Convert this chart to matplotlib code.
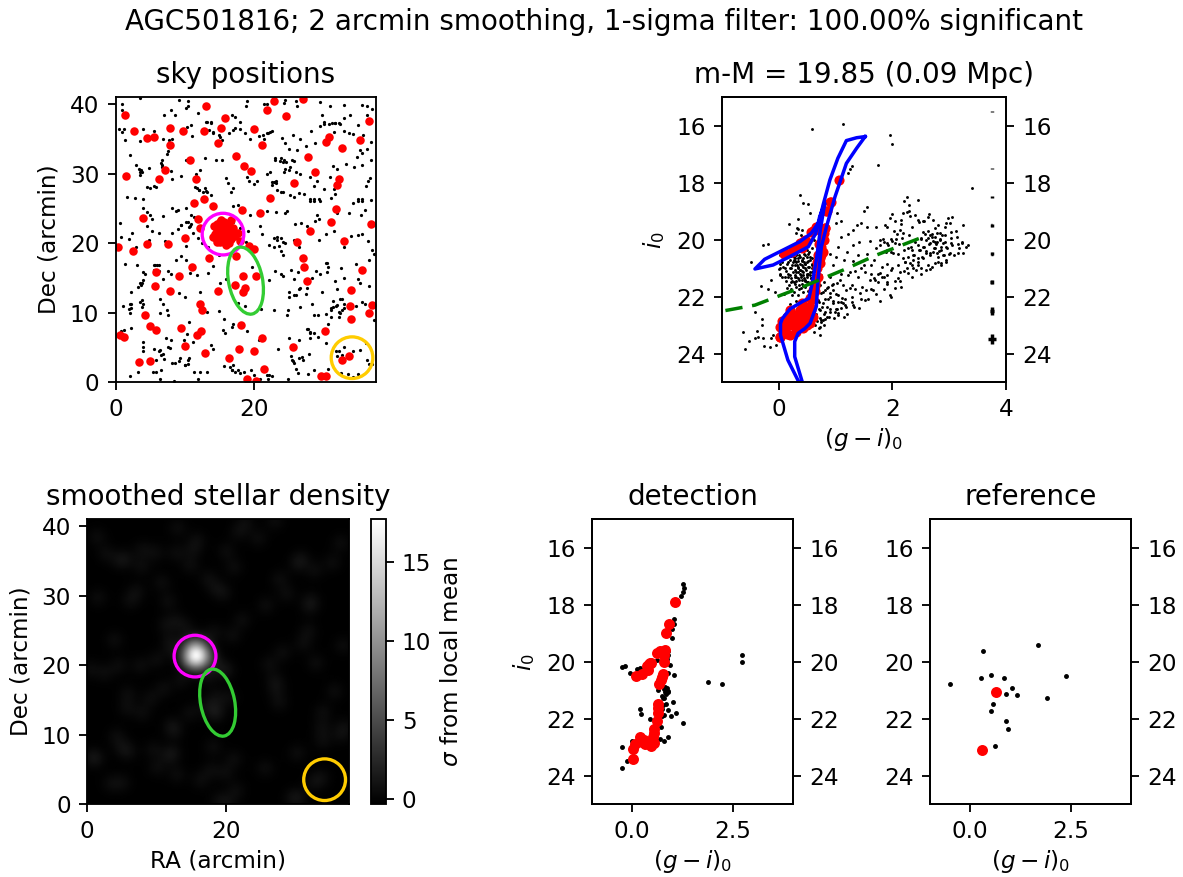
import numpy as np
import matplotlib
matplotlib.use("Agg")
import matplotlib.pyplot as plt
from matplotlib.patches import Ellipse

W, H, DPI = 1183, 877, 125

title_main = "AGC501816; 2 arcmin smoothing, 1-sigma filter: 100.00% significant"

# sky positions (arcmin)
sky_red = [(13.0,39.8),(1.4,38.5),(22.8,40.5),(27.0,40.8),(21.8,39.2),(24.6,38.3),(15.8,38.0),(36.5,37.6),(7.9,36.6),(15.2,36.6),
(2.7,36.1),(9.8,36.2),(12.8,36.2),(20.0,36.4),(4.6,35.1),(5.5,35.3),(7.8,34.2),(14.8,34.4),(21.1,34.1),(30.8,35.3),(30.3,34.6),
(35.3,34.8),(32.7,33.7),(10.7,31.9),(17.4,32.5),(27.7,32.4),(18.5,31.1),(19.6,30.4),(28.7,30.3),(1.5,29.7),(7.1,30.6),(6.2,29.3),
(11.6,29.2),(25.7,28.6),(32.2,29.3),(32.0,28.4),(22.3,26.5),(12.8,26.4),(11.3,25.8),(14.1,25.4),(18.2,24.7),(20.9,24.3),(31.8,24.9),
(3.9,23.6),(11.9,23.5),(31.1,23.1),(36.8,22.8),(12.2,22.2),(28.1,21.8),(10.0,20.8),(0.4,19.4),(4.5,19.9),(7.6,19.9),(2.5,18.9),
(26.2,20.1),(32.9,20.3),(19.3,19.6),(20.0,19.1),(17.4,18.2),(13.5,17.8),(27.0,17.8),(27.2,16.5),(11.0,16.6),(35.6,16.2),(5.8,15.8),
(9.1,15.2),(18.4,15.3),(20.3,15.3),(27.6,14.6),(17.2,14.0),(5.7,13.8),(18.6,13.5),(7.9,13.1),(14.8,13.1),(18.4,12.9),(33.9,13.2),
(12.2,11.3),(12.5,10.4),(33.8,11.0),(37.0,11.1),(36.5,9.9),(4.2,9.7),(33.9,9.1),(18.1,8.2),(5.0,8.1),(5.9,7.5),(9.5,7.8),(12.3,7.4),
(11.7,6.8),(30.2,7.3),(0.7,6.7),(1.2,6.5),(21.1,6.4),(25.6,5.1),(10.0,5.2),(17.8,4.8),(19.9,4.5),(12.9,4.2),(16.3,3.4),(3.4,2.9),
(5.0,3.0),(33.7,3.7),(32.6,3.1),(21.4,1.9),(19.0,0.5),(20.3,0.1),(29.6,0.8),(30.4,0.9)]
sky_red_core = [(15.2,23.3),(16.6,23.3),(14.6,21.9),(14.4,21.3),
(15.1,22.1),(15.8,22.6),(16.3,22.1),(16.8,21.6),(16.1,20.9),(15.3,20.7),(16.3,20.0),(14.6,20.2),(17.7,21.5),(17.9,20.3),(15.6,21.5),
(14.9,21.0),(15.7,21.9),(16.5,20.9),(16.0,20.4),(15.0,23.0),(15.7,23.1),(16.3,22.9),(14.2,22.5),(14.7,22.7),(15.4,22.4),(16.0,21.7),
(16.5,21.4),(17.0,22.2),(17.3,21.0),(14.1,20.9),(14.9,20.5),(15.6,20.1),(15.8,20.8),(15.2,21.4),(15.0,21.8),(16.2,21.2),(15.5,22.0),
(16.7,20.6),(15.9,21.3),(15.4,20.9),(14.7,21.2),(16.3,21.7),(15.7,20.6),(15.1,20.2),(16.9,21.1),(15.3,21.9),(16.0,22.3),(14.5,20.7),(15.9,19.8)]

sky_black = [(0.9,40.0),(1.0,39.1),(3.6,40.9),(7.0,38.4),(8.0,39.2),(8.6,38.5),(9.2,40.6),(10.5,40.4),(10.5,39.7),(11.9,38.7),(10.2,39.4),
(16.8,38.5),(17.3,38.2),(18.0,37.4),(18.9,40.5),(18.8,39.8),(21.4,40.1),(21.8,40.0),(24.3,40.2),(24.5,40.6),(26.2,39.7),(26.0,40.4),
(29.5,40.3),(29.8,38.5),(30.9,39.8),(33.0,39.9),(33.8,38.4),(35.6,39.9),(36.2,39.7),(37.0,39.3),(36.3,38.5),(35.0,37.0),(33.0,38.0),
(0.5,36.4),(0.9,36.0),(1.2,36.4),(1.4,34.9),(3.5,34.7),(4.0,36.5),(5.5,36.2),(6.8,35.0),(7.7,34.9),(8.2,35.0),(10.3,36.7),(10.9,37.0),
(11.0,35.4),(13.0,37.4),(13.8,37.3),(13.5,36.3),(14.1,35.8),(14.9,35.5),(15.3,34.9),(16.4,35.8),(16.9,36.3),(17.2,36.6),(17.9,36.5),
(18.7,35.8),(19.4,35.0),(20.7,35.4),(21.2,35.5),(22.0,35.9),(22.6,36.2),(21.4,35.0),(24.0,35.2),(24.5,34.4),(25.0,33.6),(25.6,35.6),
(26.6,35.0),(26.2,33.4),(27.5,34.0),(28.2,36.1),(28.8,34.4),(29.5,36.8),(30.0,37.4),(30.8,37.2),(31.7,37.3),(32.2,37.3),(31.5,36.0),
(33.0,36.2),(33.7,35.9),(34.3,35.7),(35.7,35.5),(36.2,33.6),(36.8,34.5),(35.2,33.4),(35.5,33.0),(34.8,32.4),
(2.1,32.7),(3.0,31.3),(3.4,30.7),(3.5,29.8),(3.7,30.5),(4.8,30.8),(5.6,28.2),(6.6,31.5),(6.7,31.0),(7.4,32.8),(7.6,33.2),(8.0,30.4),
(8.2,29.2),(9.4,29.7),(10.1,32.0),(11.6,29.9),(12.2,30.5),(12.9,32.3),(14.5,32.0),(15.3,31.9),(16.0,29.4),(16.2,28.6),(17.0,28.0),
(18.9,29.5),(19.3,29.0),(19.9,28.5),(20.4,28.9),(21.9,30.0),(22.3,30.3),(22.6,28.4),(23.1,28.6),(23.0,32.2),(23.9,32.2),(24.3,32.0),
(24.6,31.7),(25.0,30.6),(25.2,31.0),(26.0,30.3),(26.6,30.0),(25.8,31.8),(28.1,29.5),(28.6,28.2),(29.0,29.0),(30.1,27.8),(31.4,31.1),
(32.0,30.7),(33.3,31.4),(34.4,31.0),(35.5,31.3),(36.7,29.4),(36.1,28.2),(36.9,31.9),(36.4,29.0),(30.9,29.5),
(1.6,26.7),(2.8,26.5),(3.9,26.4),(4.0,25.0),(4.5,24.5),(5.0,24.0),(5.2,23.5),(6.9,23.9),(8.1,25.0),(8.7,24.6),(9.0,24.7),(10.1,25.0),
(10.9,24.0),(11.3,23.7),(11.7,28.0),(12.1,27.6),(12.6,27.3),(13.1,27.5),(13.8,26.9),(16.7,27.3),(17.0,25.4),(17.6,25.5),(19.4,24.0),
(21.8,24.6),(23.2,24.5),(24.4,24.3),(24.7,24.6),(25.1,26.9),(25.7,26.6),(26.4,27.2),(27.2,27.1),(28.0,26.0),(28.6,26.0),(29.5,26.0),
(31.5,27.8),(31.7,27.1),(31.0,26.5),(29.0,24.0),(29.3,23.5),(28.8,23.2),(34.3,25.8),(35.0,26.0),(35.5,26.0),(36.8,26.2),(36.0,24.8),
(35.4,24.0),(33.6,24.4),(32.0,24.3),
(0.7,22.9),(0.8,20.9),(2.0,20.6),(2.4,21.4),(3.0,19.5),(4.5,22.4),(4.9,20.5),(5.3,21.8),(6.3,21.5),(7.1,20.3),(8.1,21.4),(9.0,22.0),
(9.4,22.6),(10.2,23.0),(10.6,22.3),(10.9,22.8),(10.1,19.6),(11.2,21.5),(11.9,20.8),(12.5,20.0),(13.3,19.4),(17.0,23.0),(18.0,22.2),
(20.8,22.4),(21.1,21.3),(22.2,19.8),(22.8,20.7),(23.3,20.4),(23.5,19.6),(23.8,18.8),(24.2,18.3),(25.7,20.4),(26.5,19.5),(25.9,22.7),
(26.7,22.9),(27.6,22.5),(29.4,20.5),(30.4,21.3),(31.5,21.7),(33.0,19.4),(34.0,21.0),(35.0,21.1),(35.6,21.3),(36.4,20.3),(37.0,19.0),
(37.3,18.4),(36.5,17.5),(24.5,20.0),(18.8,20.1),(19.1,21.7),
(1.4,17.0),(3.1,16.8),(3.9,15.9),(4.3,15.6),(4.0,14.7),(3.7,14.0),(5.5,16.8),(6.0,16.9),(6.2,16.0),(6.8,14.9),(7.5,16.0),(8.0,15.5),
(8.7,17.5),(9.5,18.2),(10.1,17.5),(10.8,15.7),(11.7,15.4),(13.4,15.7),(14.0,16.7),(14.9,18.3),(16.0,14.8),(15.1,14.2),(19.7,16.5),
(22.2,14.7),(23.9,15.5),(24.2,15.2),(23.0,16.0),(25.3,16.2),(25.8,14.9),(25.0,13.0),(26.5,13.4),(27.6,13.6),(28.4,15.0),(29.7,13.0),
(30.3,17.2),(30.7,16.5),(31.6,14.5),(32.5,16.4),(33.0,15.0),(34.7,17.0),(34.9,14.8),(35.2,14.3),(36.6,13.8),(31.9,13.4),(28.9,16.0),(26.3,15.8),
(1.1,11.0),(2.3,13.0),(2.2,11.2),(2.0,10.5),(3.5,11.5),(3.8,10.8),(6.4,11.9),(6.8,11.3),(7.4,10.4),(6.4,9.9),(7.5,9.6),(9.1,12.8),
(10.0,12.2),(10.6,8.6),(12.2,13.0),(13.2,10.1),(14.9,10.2),(15.7,9.1),(16.9,8.3),(17.7,11.4),(18.6,11.0),(21.0,10.5),(22.8,10.4),
(24.8,10.4),(24.7,9.7),(25.0,12.3),(26.0,12.6),(28.3,11.2),(28.6,9.7),(29.2,9.6),(30.4,9.8),(31.0,10.6),(31.4,11.7),(31.8,11.0),
(32.3,9.9),(32.7,12.0),(33.0,10.7),(34.7,10.9),(35.5,11.5),(36.0,11.2),(37.2,8.9),(30.7,8.4),(32.2,9.3),(27.5,12.7),
(1.2,7.5),(0.8,7.3),(2.3,7.8),(3.9,5.8),(4.0,5.0),(3.9,4.5),(5.5,4.7),(6.3,4.5),(7.3,6.3),(8.0,6.1),(7.8,4.9),(7.0,3.3),(6.5,3.9),
(5.9,3.1),(10.3,6.9),(9.9,6.1),(11.2,5.7),(13.7,5.4),(14.0,4.8),(15.5,7.5),(16.8,7.9),(15.8,7.0),(18.9,7.3),(20.7,6.0),(23.4,4.8),
(25.0,6.4),(26.5,6.0),(27.6,7.6),(28.0,7.0),(28.0,6.3),(29.2,6.5),(30.3,5.6),(25.3,3.7),(25.6,3.0),(26.4,3.5),(27.0,3.2),(27.9,4.0),
(31.8,4.4),(32.2,4.5),(33.0,5.1),(34.2,4.5),(35.2,4.6),(36.1,5.6),(36.3,3.2),(37.0,2.6),(32.7,3.9),(31.9,3.7),
(2.1,0.8),(3.2,1.5),(5.4,1.4),(5.8,1.5),(6.6,1.7),(6.4,0.4),(8.1,2.8),(8.6,2.8),(9.2,3.0),(10.0,2.4),(10.4,2.6),(10.6,3.4),(11.3,1.5),
(12.2,1.4),(13.2,1.5),(15.6,2.3),(16.5,2.2),(16.8,1.7),(17.2,1.4),(18.0,1.3),(19.5,1.8),(20.0,1.0),(20.8,0.4),(21.9,1.0),(22.0,0.5),
(24.9,0.4),(26.0,1.9),(26.3,1.3),(27.8,1.2),(28.6,1.7),(30.7,1.9),(32.5,1.3),(33.5,1.2),(34.2,0.7),(35.0,1.2),(36.5,2.6),(8.5,0.2),(11.9,0.5),
(9.5,22.6),(10.5,23.1),(10.7,22.4),(4.6,28.1),(5.0,28.0),(5.9,28.1),(6.7,31.9),(6.7,31.2),(3.5,30.3),(3.8,30.3),(11.5,28.1),(12.0,27.6),
(12.9,27.9),(13.2,27.4),(23.0,31.9),(23.7,31.8),(24.2,31.7),(25.4,32.0),(24.5,30.7),(24.3,30.3),(23.2,29.0),(22.5,28.8),(22.8,28.8),
(23.3,27.6),(23.8,27.4),(24.2,27.4),(28.1,26.4),(28.6,26.3),(29.3,26.4),(35.0,26.3),(35.5,26.3),(30.0,37.2),(31.2,37.3),(31.7,37.3),
(32.3,37.2),(13.7,37.4),(13.2,37.5),(14.1,36.0),(15.1,35.3),(21.8,35.8),(22.3,36.0),(31.4,10.8),(31.9,11.1),(32.4,12.0),(32.9,11.3),
(32.2,10.1),(31.0,10.4),(31.0,9.4),(32.6,10.4),(3.3,13.7),(3.8,14.2),(3.6,14.2),(3.8,11.8),(4.0,11.3),(2.1,11.3),(2.2,10.6),(2.1,9.9),
(5.7,16.8),(6.2,16.8),(5.5,16.1),(22.8,19.5),(23.3,20.9),(23.8,20.7),(24.2,20.2),(6.4,4.6),(6.9,4.1),(7.6,5.1),(10.5,3.2),(9.3,3.4),
(10.0,2.4),(25.4,3.2),(25.7,2.7),(26.9,3.6),(17.0,2.4),(17.7,1.7),(18.5,1.5),(16.8,1.7),(22.1,1.0),(22.5,0.8),(27.8,7.7),(28.1,7.2),
(28.6,7.0),(26.6,10.8),(25.7,12.5),(26.6,13.5),(30.5,17.1),(30.5,15.9),(29.5,15.6)]

# detection / reference CMD points: (g-i)0, i0
det_red = [(1.06,17.92),(.92,18.68),(.83,18.99),(.82,19.60),(.69,19.62),(.61,19.71),(.75,19.71),(.79,20.02),(.79,19.77),(.48,20.06),
(.42,20.09),(.37,20.16),(.40,20.30),(.24,20.44),(.09,20.49),(.45,20.04),(.77,20.42),(.75,20.53),(.72,20.65),(.67,20.80),(.63,21.49),
(.63,21.64),(.64,21.82),(.61,22.09),(.55,22.35),(.54,22.52),(.52,22.64),(.20,22.66),(.30,22.75),(.40,22.85),(.53,22.87),(.46,22.96),
(.33,22.89),(.25,22.81),(.07,22.91),(.03,23.08),(.02,23.42)]
det_black = [(1.255,17.27),(1.30,17.43),(1.255,17.57),(1.21,17.69),(1.03,18.49),(1.03,18.66),(1.0,18.87),(1.0,19.16),(.90,19.63),(.88,19.77),
(.87,19.89),(.94,20.13),(1.03,20.46),(.90,20.39),(.61,19.95),(-.26,20.19),(-.17,20.16),(.11,20.25),(.20,20.22),(-.05,20.40),(1.89,20.73),
(2.23,20.80),(2.73,19.76),(2.74,20.0),(.82,20.88),(.86,20.91),(.78,20.95),(.88,21.02),(.82,21.06),(.90,21.07),(.85,21.13),(.73,21.21),
(.77,21.26),(.80,21.29),(.63,21.0),(1.02,21.40),(.83,21.49),(.77,21.53),(.19,21.67),(.21,21.83),(.75,21.68),(.88,21.71),(1.09,21.82),
(.96,21.90),(.78,21.88),(.73,21.91),(.45,22.0),(1.26,22.16),(.71,22.29),(.69,22.70),(.80,22.77),(.90,22.65),(0.0,22.79),(-.25,23.01),
(-.12,23.48),(-.25,23.73)]
ref_red = [(.63,21.08),(.29,23.09)]
ref_black = [(.31,19.61),(1.69,19.42),(-.50,20.79),(.26,20.57),(.51,20.46),(.84,20.57),(2.38,20.51),(1.04,20.91),(.89,21.14),(1.17,21.16),
(1.90,21.27),(.57,21.49),(.51,21.75),(.88,22.10),(.95,22.38),(.62,22.95)]

# full-field CMD
cmd_red_extra = [(.75,20.25),(.69,20.54),(.72,20.83),(.69,21.30),(.63,21.53),(.60,21.77),(.55,22.06),(.40,22.24),(.11,20.48),(.25,20.36),
(.37,20.13),(.46,20.01),(.57,19.72),(.66,19.54),(.02,23.06),(.11,22.82),(.19,22.47),(.25,22.70),(.37,22.47),(.49,22.35),(.57,22.47),
(.60,22.70),(.55,22.94),(.43,23.11),(.31,23.23),(.19,23.35),(.08,23.23),(.02,23.41),(.13,23.06),(.31,22.94),(.46,22.70),(.81,19.60),
(.90,18.69),(.84,18.98),(.33,22.6),(.42,22.55),(.14,22.7),(.24,23.0),(.38,23.0),(.5,23.0),(.14,23.3),(.05,22.85),(.68,21.0),(.7,20.15),(.3,20.25)]
cmd_black = [(.59,16.12),(1.13,15.93),(1.96,16.32),(1.99,16.64),(1.75,17.37),(3.41,18.17),(1.28,17.41),(1.25,17.53),(1.22,17.67),(.38,18.43),
(.52,18.75),(.43,18.72),(.55,19.07),(.34,19.29),(.18,19.46),(.32,19.6),(.40,19.66),(.30,19.78),(.43,19.9),(-.28,20.18),(-.19,20.15),(-.49,20.8),
(-.63,23.23),(-.53,23.55),(-.6,23.83),(-.39,23.2),(-.3,22.79),(-.29,23.0),(-.42,23.47),(-.36,23.43),(-.28,23.47),(-.26,23.72),(-.16,23.78),
(-.13,23.47),(-.1,23.35),(-.05,23.7),(-.42,22.53),(-.32,21.63),(-.19,21.73),(-.13,21.42),(-.06,21.85),(.19,22.26),(.3,22.14),(.72,23.08),
(.63,23.0),(.78,22.82),(.84,22.7),
(.02,20.55),(.05,20.8),(.02,21.0),(.02,21.2),(.06,21.3),(.08,20.95),(.1,20.65),(.12,21.1),(.13,21.45),(.15,20.85),(.16,21.2),(.17,20.55),
(.18,21.6),(.2,21.0),(.2,20.7),(.21,21.35),(.22,21.75),(.24,20.9),(.25,21.15),(.25,20.45),(.26,21.5),(.27,21.85),(.28,20.75),(.29,21.05),
(.3,21.3),(.3,20.55),(.31,21.65),(.32,20.9),(.33,21.15),(.33,21.95),(.34,20.65),(.35,21.4),(.36,21.75),(.37,20.85),(.37,21.05),(.38,20.4),
(.39,21.25),(.4,21.55),(.41,20.7),(.42,20.95),(.42,21.85),(.43,21.15),(.44,20.5),(.45,21.35),(.46,21.65),(.47,20.85),(.48,21.05),(.49,20.6),
(.5,21.25),(.5,21.5),(.51,21.8),(.52,20.75),(.53,20.95),(.54,20.45),(.55,21.15),(.56,21.35),(.57,21.65),(.58,20.65),(.59,20.9),(.6,21.1),
(.28,21.25),(.23,21.45),(.34,21.0),(.39,21.7),(.41,21.1),(.44,20.8),(.36,20.55),(.31,20.8),(.26,20.7),(.47,21.45),(.52,21.2),(.19,21.25),
(.15,21.7),(.1,21.9),(.24,21.95),(.46,19.95),(.35,20.3),(.27,20.25),(.55,20.1),(.5,20.35),(.58,20.3),(.62,20.0),
(.72,21.0),(.75,21.25),(.8,21.5),(.72,21.6),(.78,21.85),(.85,21.7),(.9,21.3),(.95,21.55),(1.0,21.9),(.82,22.1),(.9,22.0),(.7,22.2),
(.76,22.35),(.85,22.35),(.95,22.15),(1.05,22.2),(1.12,22.05),(.8,22.6),(.72,22.75),(.65,22.6),(.7,22.45),(.9,22.55),(1.0,22.45),(1.1,22.4),
(1.17,22.3),(1.2,22.6),(1.15,22.7),(1.05,22.65),(.97,22.75),(.88,22.7),(.75,22.9),(.68,22.85),(.8,23.0),(.62,23.25),(.72,23.35),(1.28,22.0),
(1.33,22.35),(1.42,22.4),(1.45,22.1),(1.35,21.75),(1.25,21.7),(.95,20.9),(1.0,20.6),(1.05,20.25),(.9,20.5),(1.15,20.7),(1.2,20.45),(1.3,20.75),
(1.1,19.9),(1.22,19.8),(1.3,20.2),(1.42,20.1),(1.4,20.55),(1.55,20.5),(1.5,20.9),(1.45,21.0),(1.35,21.1),(1.25,21.15),(1.1,21.2),(1.02,19.05),
(1.1,19.35),(1.3,19.65),(1.37,19.5),(1.5,19.0),(1.45,19.4),(1.55,18.85),(1.0,19.4),
(1.6,21.4),(1.62,21.75),(1.68,21.35),(1.75,21.5),(1.72,21.9),(1.85,21.3),(1.9,21.55),(1.95,21.95),(1.98,22.0),(1.78,22.15),(1.85,21.75),
(2.05,21.7),(2.1,21.35),(2.15,21.65),(1.62,20.9),(1.68,20.7),(1.72,19.55),(1.55,19.55),(1.6,20.05),(1.72,20.3),(1.78,20.2),(1.85,20.1),
(1.88,20.45),(1.92,20.2),(1.97,20.45),(2.0,20.05),(2.02,19.7),(2.08,19.8),(2.1,20.5),(2.12,20.15),(2.17,19.95),(2.2,20.35),(2.22,20.8),
(2.25,21.0),(2.28,20.6),(2.3,19.85),(2.33,20.25),(2.35,20.9),(2.38,20.55),(2.4,20.1),(2.42,21.05),(2.45,20.8),(2.47,20.35),(2.5,19.95),
(2.52,20.6),(2.55,20.25),(2.57,19.8),(2.6,20.4),(2.62,19.95),(2.65,20.15),(2.67,20.55),(2.7,19.8),(2.72,20.05),(2.73,20.3),(2.75,19.9),
(2.77,20.15),(2.8,20.6),(2.82,20.4),(2.83,20.0),(2.85,20.25),(2.87,19.85),(2.9,20.55),(2.92,20.1),(2.95,20.7),(2.97,20.3),(3.0,20.5),
(3.03,19.95),(3.05,20.2),(3.08,20.55),(3.12,19.7),(3.15,20.15),(3.22,20.1),(3.3,20.25),(3.18,20.3),(2.3,19.0),(2.4,19.15),(2.2,18.65),
(2.25,18.5),(2.3,18.8),(2.45,18.6),(2.55,19.35),(2.65,19.1),(2.35,19.55),(2.8,19.5),(2.95,19.4),(3.05,19.2),(2.45,19.3),(1.9,19.55),(2.0,19.1),
(2.15,19.3),(2.6,21.05),(2.7,20.95),(2.8,20.8),(2.85,20.9),(2.5,21.2),(2.35,21.3),(2.2,21.1),(2.0,21.0),(1.9,20.85),(1.82,20.95)]
cmd_black_main = [(.28,20.66),(.31,20.49),(.37,20.6),(.43,20.66),(.49,20.78),(.55,20.72),(.28,20.9),(.34,20.95),(.4,20.9),(.46,21.01),(.52,20.95),
(.58,21.01),(.31,21.13),(.37,21.19),(.43,21.25),(.49,21.19),(.55,21.25),(.28,21.3),(.34,21.36),(.4,21.42),(.47,21.42),(.52,21.48),(.22,21.48),
(.28,21.57),(.35,21.6),(.43,21.62),(.16,21.3),(.11,21.3),(.22,21.01),(.25,20.78),(.16,20.78),(.02,20.87),(0.0,21.04),(.11,21.01),(.02,21.25),
(.46,20.54),(.52,20.49),(.55,20.6),(.58,20.84),(.59,21.13),(.56,21.36),(.34,20.75),(.4,20.75),(.27,20.6),(.22,20.57),(.46,20.84),(.37,21.07),
(.49,21.3),(.3,21.46),(.39,21.3),(.33,19.61),(.39,19.84)]
cmd_black_lower = [(.75,21.89),(.81,21.77),(.87,22.07),(.93,21.6),(.96,22.24),(1.02,22.42),(1.04,21.95),(1.10,22.18),(1.16,22.07),(1.28,22.18),
(1.31,22.3),(1.13,21.6),(1.19,21.77),(1.28,21.6),(1.43,21.89),(1.51,22.12),(1.57,22.07),(1.66,21.77),(1.69,21.42),(1.54,21.77),(.78,22.24),
(.72,22.47),(.81,22.53),(.75,22.83),(.81,22.77),(.90,22.42),(.99,22.53),(1.04,22.59),(.69,22.12),(.71,23.12),(1.40,21.3),(1.51,21.13),(1.63,21.19),
(1.75,21.19),(1.22,21.25),(1.46,21.66),(1.13,22.24),(1.19,22.36),(.90,21.89),(.96,21.77),(.87,21.66),(1.02,21.54),(1.07,21.42)]
cmd_black_rgb = [(1.95,19.25),(2.04,19.33),(2.19,19.08),(2.26,19.02),(2.31,19.17),(2.16,19.45),(1.87,19.49),(2.47,19.37),(2.54,19.35),(2.63,19.22),
(2.71,19.31),(2.98,19.25),(3.01,19.43),(3.25,19.49),(2.92,19.57),(3.04,19.72),(3.13,19.9),(3.22,20.13),(3.33,20.19),(3.16,20.48),(3.25,20.46),
(2.63,19.69),(2.75,19.6),(2.78,19.78),(2.92,19.84),(2.83,19.96),(2.69,19.9),(2.51,19.96),(2.6,20.01),(2.54,20.25),(2.66,20.13),(2.75,20.07),
(2.89,20.13),(2.95,20.25),(2.86,20.37),(2.75,20.31),(2.78,20.48),(2.66,20.48),(2.45,20.19),(2.48,20.37),(2.34,20.37),(2.36,20.54),(2.28,20.31),
(2.13,19.66),(2.19,19.78),(2.07,19.96),(2.04,20.13),(1.9,20.13),(1.98,19.99),(1.84,19.96),(1.78,20.01),(1.9,20.37),(2.01,20.48),(2.19,20.66),
(2.22,20.78),(2.31,20.83),(2.36,21.01),(2.45,20.89),(2.51,21.01),(2.63,20.89),(2.66,21.04),(2.75,20.83),(2.86,20.81),(2.95,20.77),(2.54,20.66),
(2.45,20.66),(2.36,20.72),(2.1,20.89),(1.98,21.07),(2.13,21.13),(2.28,21.18),(1.9,21.24),(1.78,21.18),(1.9,21.48),(2.04,21.44),(2.13,21.44),
(1.81,21.3),(3.04,20.13),(3.01,20.48),(2.89,20.54),(2.6,20.48),(2.54,19.72),(2.66,19.84),(2.83,19.78),(2.79,20.07),(2.72,20.42)]

iso_x = [1.52,1.37,1.19,1.04,.90,.78,.71,.57,.37,.02,-.25,-.42,-.10,.19,.52,.65,.72,.81,.73,.67,.60,.53,.42,.31,.20,.11,.06,.03,.03,.16,.38,.43,.28,.28,.34,.46,.55,.66,.69,.75,.84,.99,1.19,1.37,1.52]
iso_y = [16.38,16.42,16.52,17.14,17.90,18.78,19.37,19.78,20.07,20.42,20.69,21.03,20.89,20.60,20.25,19.78,19.19,18.72,19.66,20.60,21.42,22.06,22.17,22.30,22.43,22.65,22.78,22.94,23.35,24.23,25.11,25.11,24.11,23.58,23.29,23.12,22.94,22.35,21.42,20.25,19.54,18.49,17.32,16.79,16.38]

line_x = [-.94,-.42,.43,1.13,1.72,2.48]
line_y = [22.49,22.30,21.65,21.07,20.54,19.95]

err_col = 3.75
err_mag = [15.5,16.5,17.5,18.5,19.5,20.5,21.5,22.5,23.5]
err_x = [.003,.003,.004,.005,.012,.018,.025,.035,.07]
err_y = [.01,.01,.02,.03,.04,.05,.07,.13,.18]

mag_ticks = [16,18,20,22,24]
sky_ticks_y = [0,10,20,30,40]
cbar_ticks = [0,5,10,15]

SKY_X, SKY_Y = 37.6, 41.0
regions = [((15.5,21.3),6.0,6.0,0,'#ff00ff'),((18.75,14.6),4.9,9.8,11,'#33cc33'),((34.1,3.5),6.0,6.0,0,'#ffcc00')]

S = 4/3
plt.rcParams.update({'font.size':10*S,'font.family':'DejaVu Sans','mathtext.fontset':'dejavusans',
    'axes.linewidth':0.8*S,'xtick.major.size':3.5*S,'ytick.major.size':3.5*S,'xtick.major.width':0.8*S,
    'ytick.major.width':0.8*S,'xtick.major.pad':3.5*S,'ytick.major.pad':3.5*S,'axes.labelpad':4*S,'axes.titlepad':6*S,
    'axes.titlesize':12*S})

fig = plt.figure(figsize=(W/DPI, H/DPI), dpi=DPI)

def axpx(l, t, r, b):
    return fig.add_axes([l/W, 1-b/H, (r-l)/W, (b-t)/H])

def cols(pairs):
    a = np.array(pairs)
    return a[:,0], a[:,1]

def add_regions(ax):
    for c, w, h, ang, col in regions:
        ax.add_patch(Ellipse(c, w, h, angle=ang, fill=False, ec=col, lw=1.9, zorder=5))

def sky_axis(ax):
    ax.set_xlim(0, SKY_X); ax.set_ylim(0, SKY_Y)
    ax.set_xticks([0,20]); ax.set_yticks(sky_ticks_y)
    ax.set_ylabel('Dec (arcmin)')

def cmd_axis(ax, xt, xl, ylab=True):
    ax.set_xlim(-1,4); ax.set_ylim(25,15)
    ax.set_xticks(xt); ax.set_xticklabels(xl)
    ax.set_yticks(mag_ticks)
    ax.set_xlabel(r'$(g-i)_0$', labelpad=2.5)
    if ylab:
        ax.set_ylabel(r'$i_0$')
    t = ax.twinx()
    t.set_ylim(25,15); t.set_yticks(mag_ticks)

fig.text(604/W, 1-22/H, title_main, ha='center', va='center', fontsize=12*S)

# sky
ax1 = axpx(115.5,97.3,376.3,382)
x,y = cols(sky_black); ax1.scatter(x,y,s=3.4,c='k',lw=0)
x,y = cols(sky_red+sky_red_core); ax1.scatter(x,y,s=24,c='r',lw=0)
add_regions(ax1); sky_axis(ax1)
ax1.set_title('sky positions')

# full CMD
ax2 = axpx(722,97.3,1006,382)
x,y = cols(cmd_black+cmd_black_main+cmd_black_lower+cmd_black_rgb); ax2.scatter(x,y,s=2.8,c='k',lw=0)
x,y = cols(det_red+cmd_red_extra); ax2.scatter(x,y,s=34,c='r',lw=0)
ax2.plot(iso_x, iso_y, color='b', lw=2.0)
ax2.plot(line_x, line_y, color='g', lw=2.0, ls=(0,(5,2.8)))
ax2.errorbar([err_col]*len(err_mag), err_mag, xerr=err_x, yerr=err_y, fmt='none', ecolor='k', elinewidth=2.0)
cmd_axis(ax2,[0,2,4],['0','2','4'])
ax2.set_title('m-M = 19.85 (0.09 Mpc)')

# density map computed from the selected stars
ax3 = axpx(87,519.3,349,804)
gx, gy = np.meshgrid(np.linspace(0,SKY_X,300), np.linspace(0,SKY_Y,320))
rx, ry = cols(sky_red+sky_red_core)
dens = sum(np.exp(-((gx-a)**2+(gy-b)**2)/(2*1.0**2)) for a,b in zip(rx,ry))
dens = dens/dens.max()*17.4 - 0.3
im = ax3.imshow(dens, origin='lower', extent=[0,SKY_X,0,SKY_Y], aspect='auto', cmap='gray', vmin=-0.32, vmax=17.7, interpolation='bilinear')
add_regions(ax3); sky_axis(ax3)
ax3.set_xlabel('RA (arcmin)', labelpad=3.5)
ax3.set_title('smoothed stellar density')
cax = axpx(370.7,519.3,385.5,804)
cb = fig.colorbar(im, cax=cax, ticks=cbar_ticks)
cb.set_label(r'$\sigma$ from local mean')

# detection
ax4 = axpx(592,519.3,793,804)
x,y = cols(det_black); ax4.scatter(x,y,s=8,c='k',lw=0)
x,y = cols(det_red); ax4.scatter(x,y,s=40,c='r',lw=0)
cmd_axis(ax4,[0,2.5],['0.0','2.5'])
ax4.set_title('detection')

# reference
ax5 = axpx(930,519.3,1131,804)
x,y = cols(ref_black); ax5.scatter(x,y,s=8,c='k',lw=0)
x,y = cols(ref_red); ax5.scatter(x,y,s=40,c='r',lw=0)
cmd_axis(ax5,[0,2.5],['0.0','2.5'],ylab=False)
ax5.set_title('reference')

fig.savefig('out.png', dpi=DPI)
